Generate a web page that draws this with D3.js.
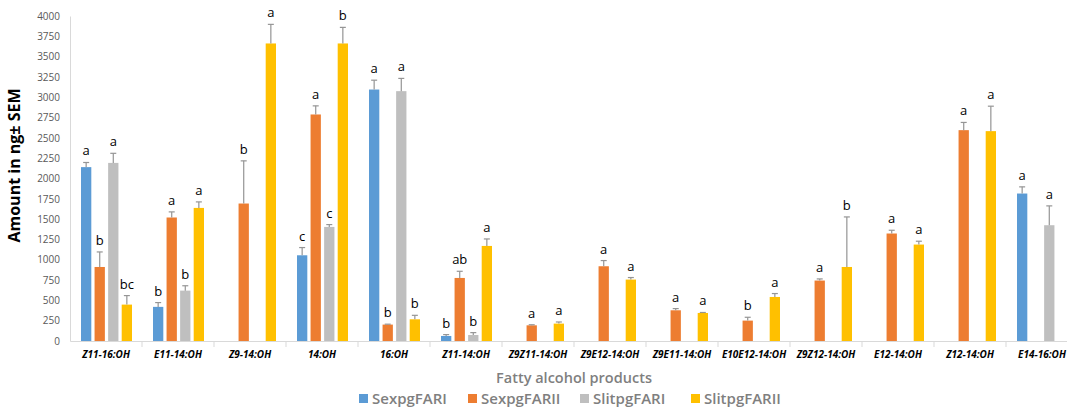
<!DOCTYPE html>
<html lang="en">
<head>
<meta charset="UTF-8">
<title>Fatty alcohol products</title>
<script src="https://d3js.org/d3.v7.min.js"></script>
<style>
  body { margin: 0; background: #fff; }
  text { font-family: "Open Sans", "Liberation Sans", sans-serif; }
</style>
</head>
<body>
<script>
    // categories on the x axis
    categories = ["Z11-16:OH", "E11-14:OH", "Z9-14:OH", "14:OH", "16:OH", "Z11-14:OH", "Z9Z11-14:OH",
        "Z9E12-14:OH", "Z9E11-14:OH", "E10E12-14:OH", "Z9Z12-14:OH", "E12-14:OH", "Z12-14:OH", "E14-16:OH"]

    series = ["SexpgFARI", "SexpgFARII", "SlitpgFARI", "SlitpgFARII"]
    colors = ["#5b9bd5", "#ed7d31", "#bfbfbf", "#ffc000"]

    // mean amounts (ng), null = not produced
    sexFARI   = [2140, 420, null, 1055, 3095, 62, null, null, null, null, null, null, null, 1815]
    sexFARII  = [911, 1520, 1692, 2788, 202, 776, 193, 920, 378, 251, 744, 1323, 2595, null]
    slitFARI  = [2192, 620, null, 1404, 3075, 74, null, null, null, null, null, null, null, 1425]
    slitFARII = [448, 1638, 3662, 3662, 267, 1170, 214, 756, 345, 542, 911, 1187, 2583, null]

    // SEM
    semSexFARI   = [57, 53, null, 95, 115, 17, null, null, null, null, null, null, null, 82]
    semSexFARII  = [185, 69, 525, 106, 5, 82, 7, 70, 21, 41, 20, 40, 95, null]
    semSlitFARI  = [118, 60, null, 29, 157, 29, null, null, null, null, null, null, null, 238]
    semSlitFARII = [111, 74, 235, 198, 49, 86, 20, 25, 6, 42, 616, 41, 307, null]

    // significance letters
    letSexFARI   = ["a", "b", "", "c", "a", "b", "", "", "", "", "", "", "", "a"]
    letSexFARII  = ["b", "a", "b", "a", "b", "ab", "a", "a", "a", "b", "a", "a", "a", ""]
    letSlitFARI  = ["a", "b", "", "c", "a", "b", "", "", "", "", "", "", "", "a"]
    letSlitFARII = ["bc", "a", "a", "b", "b", "a", "a", "a", "a", "a", "b", "a", "a", ""]

    yTicks = [0, 250, 500, 750, 1000, 1250, 1500, 1750, 2000, 2250, 2500, 2750, 3000, 3250, 3500, 3750, 4000]

    values = [sexFARI, sexFARII, slitFARI, slitFARII]
    sems = [semSexFARI, semSexFARII, semSlitFARI, semSlitFARII]
    letters = [letSexFARI, letSexFARII, letSlitFARI, letSlitFARII]

    // flatten into records
    data = []
    categories.forEach((c, i) => {
        series.forEach((s, j) => {
            if (values[j][i] != null) {
                data.push({cat: c, series: s, idx: j, value: values[j][i], sem: sems[j][i], letter: letters[j][i]})
            }
        })
    })

    w = 1067
    h = 412
    margin = {top: 16, right: 0, bottom: 71, left: 70}
    width = 1008   // plot runs past the right edge, as in the original
    height = h - margin.top - margin.bottom

    svg = d3.select("body")
        .append("svg")
        .attr("width", w)
        .attr("height", h)
        .append("g")
        .attr("transform", "translate(" + margin.left + "," + margin.top + ")")

    x = d3.scaleBand()
        .domain(categories)
        .range([0, width])

    xs = d3.scaleBand()
        .domain(series)
        .range([x.bandwidth() / 2 - 25, x.bandwidth() / 2 + 26])
        .paddingInner(0.24)

    y = d3.scaleLinear()
        .domain([0, 4000])
        .range([height, 0])

    // y axis
    yAxis = svg.append("g")
        .call(d3.axisLeft(y).tickValues(yTicks).tickFormat(d3.format("d")).tickSize(0).tickPadding(10))
    yAxis.select(".domain").attr("stroke", "#d9d9d9")
    yAxis.selectAll("text")
        .attr("fill", "#595959")
        .style("font-size", "10px")

    // x axis
    xAxis = svg.append("g")
        .attr("transform", "translate(0," + height + ")")
        .call(d3.axisBottom(x).tickSize(0).tickPadding(10))
    xAxis.select(".domain").attr("stroke", "#d9d9d9")
    xAxis.selectAll("text")
        .attr("fill", "#000")
        .style("font-size", "10px")
        .style("font-weight", "bold")
        .style("font-style", "italic")
    // category separators
    svg.append("g").selectAll("line")
        .data(categories.slice(1))
        .join("line")
        .attr("x1", d => x(d))
        .attr("x2", d => x(d))
        .attr("y1", height)
        .attr("y2", height + 6)
        .attr("stroke", "#d9d9d9")

    // bars
    bars = svg.append("g").selectAll("g")
        .data(data)
        .join("g")
        .attr("transform", d => "translate(" + (x(d.cat) + xs(d.series)) + ",0)")

    bars.append("rect")
        .attr("x", 0)
        .attr("width", xs.bandwidth())
        .attr("y", d => y(d.value))
        .attr("height", d => height - y(d.value))
        .attr("fill", d => colors[d.idx])

    // error bars (upper only)
    bw = xs.bandwidth()
    bars.append("line")
        .attr("x1", bw / 2).attr("x2", bw / 2)
        .attr("y1", d => y(d.value))
        .attr("y2", d => y(d.value + d.sem))
        .attr("stroke", "#959595")
        .attr("stroke-width", 1.2)
    bars.append("line")
        .attr("x1", bw / 2 - 3).attr("x2", bw / 2 + 3)
        .attr("y1", d => y(d.value + d.sem))
        .attr("y2", d => y(d.value + d.sem))
        .attr("stroke", "#959595")
        .attr("stroke-width", 1.2)

    bars.append("text")
        .attr("x", bw / 2)
        .attr("y", d => y(d.value + d.sem) - 7)
        .attr("text-anchor", "middle")
        .attr("fill", "#000")
        .style("font-size", "13px")
        .text(d => d.letter)

    // axis titles
    svg.append("text")
        .attr("transform", "translate(-50," + (height / 2 - 13) + ") rotate(-90)")
        .attr("text-anchor", "middle")
        .style("font-size", "16px")
        .style("font-weight", "bold")
        .attr("fill", "#000")
        .text("Amount in ng± SEM")

    svg.append("text")
        .attr("x", width / 2)
        .attr("y", height + 42)
        .attr("text-anchor", "middle")
        .style("font-size", "14.5px")
        .style("font-weight", "600")
        .attr("fill", "#7f7f7f")
        .text("Fatty alcohol products")

    // legend
    legendX = [289, 398, 510, 621]
    legend = svg.append("g")
        .attr("transform", "translate(0," + (height + 63) + ")")
        .selectAll("g")
        .data(series)
        .join("g")
        .attr("transform", (d, i) => "translate(" + legendX[i] + ",0)")
    legend.append("rect")
        .attr("x", 0).attr("y", -10)
        .attr("width", 9).attr("height", 9)
        .attr("fill", (d, i) => colors[i])
    legend.append("text")
        .attr("x", 13)
        .attr("y", 0)
        .style("font-size", "15px")
        .style("font-weight", "600")
        .attr("fill", "#7f7f7f")
        .text(d => d)
</script>
</body>
</html>
